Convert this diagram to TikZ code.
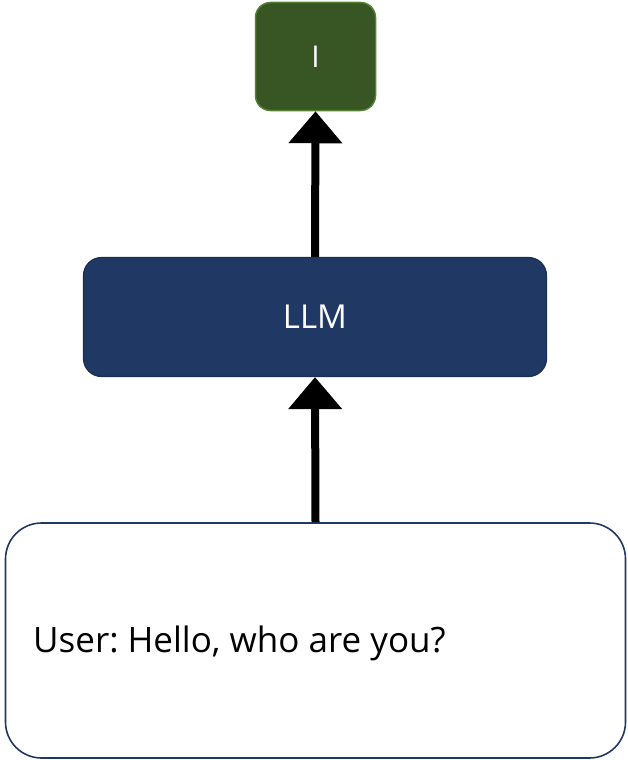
\documentclass[tikz,border=0pt]{standalone}
\usepackage{fontspec}
\setmainfont{Open Sans}
\usetikzlibrary{arrows.meta}
\definecolor{outgreen}{HTML}{375623}
\definecolor{outgreenline}{HTML}{548235}
\definecolor{llmblue}{HTML}{203864}
\definecolor{llmline}{HTML}{1A2E52}
\tikzset{
  outbox/.style={draw=outgreenline, line width=1.5pt, fill=outgreen, rounded corners=15pt,
    minimum width=120pt, minimum height=108pt, text=white, font=\fontsize{30}{36}\selectfont},
  llmbox/.style={draw=llmline, line width=1.2pt, fill=llmblue, rounded corners=18pt,
    minimum width=463pt, minimum height=119pt, text=white, font=\fontsize{33}{40}\selectfont},
  inbox/.style={draw=llmblue, line width=1.6pt, fill=white, rounded corners=36pt,
    minimum width=620pt, minimum height=235pt},
  flow/.style={line width=8pt, -{Triangle[width=52pt,length=32pt]}}
}
\frenchspacing
\begin{document}
\begin{tikzpicture}[x=1pt,y=-1pt]
  \useasboundingbox (0,0) rectangle (628,760);
  \node[outbox] (out) at (315.5,56.5) {I};
  \node[llmbox] (llm) at (315,317) {LLM};
  \node[inbox] (in) at (315.5,640.5) {};
  \node[anchor=west, font=\fontsize{35}{42}\selectfont, inner sep=0pt] (msg) at (33,643) {User: Hello, who are you?};
  \draw[flow] (llm.north) -- (out.south);
  \draw[flow] (in.north) -- (llm.south);
\end{tikzpicture}
\end{document}
